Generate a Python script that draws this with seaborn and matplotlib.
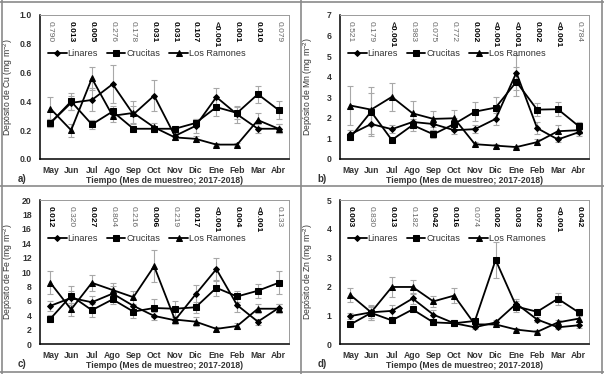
import numpy as np
import pandas as pd
import seaborn as sns
import matplotlib
matplotlib.use("Agg")
import matplotlib.pyplot as plt
from matplotlib.lines import Line2D
from matplotlib.ticker import FixedLocator

meses = ["May", "Jun", "Jul", "Ago", "Sep", "Oct", "Nov", "Dic", "Ene", "Feb", "Mar", "Abr"]
sitios = ["Linares", "Crucitas", "Los Ramones"]

# Cu
cu_linares = [0.25, 0.39, 0.41, 0.52, 0.31, 0.44, 0.16, 0.23, 0.43, 0.31, 0.21, 0.21]
cu_crucitas = [0.25, 0.40, 0.24, 0.33, 0.21, 0.21, 0.21, 0.25, 0.36, 0.32, 0.45, 0.34]
cu_ramones = [0.35, 0.20, 0.56, 0.30, 0.32, 0.22, 0.15, 0.14, 0.10, 0.10, 0.27, 0.21]
cu_err_linares = [0.03, 0.05, 0.08, 0.13, 0.06, 0.11, 0.02, 0.05, 0.06, 0.06, 0.03, 0.03]
cu_err_crucitas = [0.03, 0.06, 0.03, 0.04, 0.02, 0.02, 0.02, 0.03, 0.06, 0.04, 0.06, 0.06]
cu_err_ramones = [0.08, 0.045, 0.08, 0.04, 0.08, 0.03, 0.02, 0.02, 0.01, 0.01, 0.05, 0.03]
cu_p = ["0.790", "0.013", "0.005", "0.276", "0.178", "0.031", "0.031", "0.107", "<0.001", "0.001", "0.010", "0.079"]
cu_bold = [0, 1, 1, 0, 0, 1, 1, 1, 1, 1, 1, 0]

# Mn
mn_linares = [1.20, 1.70, 1.45, 1.80, 1.70, 1.40, 1.45, 1.95, 4.20, 1.50, 0.95, 1.30]
mn_crucitas = [1.05, 2.30, 0.92, 1.65, 1.20, 1.70, 2.30, 2.50, 3.75, 2.40, 2.42, 1.60]
mn_ramones = [2.60, 2.40, 3.02, 2.22, 1.95, 1.98, 0.72, 0.65, 0.58, 0.82, 1.35, 1.40]
mn_err_linares = [0.2, 0.5, 0.2, 0.3, 0.3, 0.2, 0.2, 0.3, 0.84, 0.3, 0.1, 0.2]
mn_err_crucitas = [0.15, 1.2, 0.1, 0.3, 0.2, 0.3, 0.45, 0.5, 0.7, 0.3, 0.35, 0.2]
mn_err_ramones = [0.94, 0.8, 0.68, 0.6, 0.4, 0.38, 0.1, 0.1, 0.05, 0.15, 0.3, 0.2]
mn_p = ["0.521", "0.179", "<0.001", "0.983", "0.075", "0.772", "0.002", "<0.001", "<0.001", "0.002", "<0.001", "0.784"]
mn_bold = [0, 0, 1, 0, 0, 0, 1, 1, 1, 1, 1, 0]

# Fe
fe_linares = [5.3, 6.4, 5.8, 7.0, 5.3, 3.9, 3.3, 6.9, 10.4, 5.4, 3.1, 5.0]
fe_crucitas = [3.5, 6.7, 4.7, 6.2, 4.5, 5.0, 4.9, 5.1, 7.8, 6.6, 7.4, 8.5]
fe_ramones = [8.5, 4.8, 8.5, 7.5, 6.5, 10.8, 3.4, 3.1, 2.1, 2.5, 4.9, 4.9]
fe_err_linares = [0.7, 1.0, 0.9, 1.0, 0.9, 0.5, 0.5, 1.3, 1.6, 1.0, 0.4, 0.5]
fe_err_crucitas = [0.5, 1.3, 0.9, 0.7, 0.9, 1.3, 1.1, 0.8, 1.1, 0.8, 1.0, 1.6]
fe_err_ramones = [1.6, 0.9, 1.1, 1.0, 0.9, 2.2, 0.5, 0.6, 0.3, 0.4, 0.6, 0.6]
fe_p = ["0.012", "0.320", "0.027", "0.804", "0.216", "0.006", "0.219", "0.017", "<0.001", "0.004", "<0.001", "0.133"]
fe_bold = [1, 0, 1, 0, 0, 1, 0, 1, 1, 1, 1, 0]

# Zn
zn_linares = [0.97, 1.10, 1.15, 1.58, 1.02, 0.72, 0.58, 0.75, 1.40, 0.85, 0.58, 0.65]
zn_crucitas = [0.68, 1.08, 0.82, 1.20, 0.75, 0.72, 0.80, 2.92, 1.30, 1.12, 1.57, 1.10]
zn_ramones = [1.70, 1.10, 1.98, 1.98, 1.48, 1.68, 0.68, 0.68, 0.50, 0.42, 0.75, 0.88]
zn_err_linares = [0.1, 0.25, 0.2, 0.2, 0.15, 0.1, 0.05, 0.1, 0.15, 0.1, 0.05, 0.1]
zn_err_crucitas = [0.05, 0.25, 0.1, 0.1, 0.1, 0.1, 0.1, 0.62, 0.2, 0.1, 0.2, 0.1]
zn_err_ramones = [0.25, 0.2, 0.35, 0.24, 0.2, 0.25, 0.1, 0.1, 0.05, 0.05, 0.1, 0.1]
zn_p = ["0.003", "0.830", "0.013", "0.182", "0.042", "0.016", "0.074", "0.002", "0.003", "0.002", "<0.001", "0.042"]
zn_bold = [1, 0, 1, 0, 1, 1, 0, 1, 1, 1, 1, 1]

paneles = [
    ("Cu", [cu_linares, cu_crucitas, cu_ramones], [cu_err_linares, cu_err_crucitas, cu_err_ramones],
     cu_p, cu_bold, np.arange(0, 1.01, 0.2), "{:.1f}", "a)"),
    ("Mn", [mn_linares, mn_crucitas, mn_ramones], [mn_err_linares, mn_err_crucitas, mn_err_ramones],
     mn_p, mn_bold, np.arange(0, 8, 1), "{:.0f}", "b)"),
    ("Fe", [fe_linares, fe_crucitas, fe_ramones], [fe_err_linares, fe_err_crucitas, fe_err_ramones],
     fe_p, fe_bold, np.arange(0, 21, 2), "{:.0f}", "c)"),
    ("Zn", [zn_linares, zn_crucitas, zn_ramones], [zn_err_linares, zn_err_crucitas, zn_err_ramones],
     zn_p, zn_bold, np.arange(0, 6, 1), "{:.0f}", "d)"),
]

sns.set_style("white")
plt.rcParams["font.family"] = ["Liberation Sans", "DejaVu Sans"]
plt.rcParams["mathtext.default"] = "regular"

W, H = 604, 374
fig = plt.figure(figsize=(W / 100, H / 100), dpi=100)

# axes boxes in pixels: left, top, right, bottom
cajas = [(40, 15, 289, 159), (340, 15, 589, 159), (40, 200, 289, 344), (340, 200, 589, 344)]
marcadores = {"Linares": "D", "Crucitas": "s", "Los Ramones": "^"}
tam = {"Linares": 3, "Crucitas": 5, "Los Ramones": 5}
texto = "#333333"

for (elem, series, errores, pvals, negrita, yticks, fmt, letra), (l, t, r, b) in zip(paneles, cajas):
    ax = fig.add_axes([l / W, 1 - b / H, (r - l) / W, (b - t) / H])
    x = np.arange(len(meses))
    for sitio, y, e in zip(sitios, series, errores):
        ax.errorbar(x, y, yerr=e, fmt="none", ecolor="#a8a8a8", elinewidth=0.8,
                    capsize=2, capthick=0.8, zorder=1)
    df = pd.DataFrame({
        "mes": np.tile(meses, 3),
        "valor": np.concatenate(series),
        "sitio": np.repeat(sitios, len(meses)),
    })
    for sitio in sitios:
        sub = df[df["sitio"] == sitio]
        sns.lineplot(data=sub, x="mes", y="valor", ax=ax, color="black", lw=1.3,
                     marker=marcadores[sitio], markersize=tam[sitio], markeredgecolor="black",
                     label=sitio, zorder=3, sort=False)
    ax.set_xlim(-0.5, len(meses) - 0.5)
    ax.set_ylim(yticks[0], yticks[-1])
    ax.set_yticks(yticks)
    ax.set_yticklabels([fmt.format(v) for v in yticks], fontsize=6.2, fontweight="bold", color=texto)
    ax.set_xticks(x)
    ax.set_xticklabels(meses, fontsize=6.2, fontweight="bold", color=texto)
    ax.tick_params(axis="x", which="major", length=0, pad=5)
    ax.xaxis.set_minor_locator(FixedLocator(x[:-1] + 0.5))
    ax.tick_params(axis="x", which="minor", direction="inout", length=5, width=1)
    ax.tick_params(axis="y", direction="out", length=4, width=1, pad=2)
    ax.set_xlabel("Tiempo (Mes de muestreo; 2017-2018)", fontsize=6.2, fontweight="bold",
                  color=texto, labelpad=1)
    ax.set_ylabel("Depósito de " + elem + " (mg m$^{-2}$)", fontsize=6.2, color=texto)
    ax.yaxis.set_label_coords(-25 / (r - l), 0.5)
    for lado in ["left", "bottom"]:
        ax.spines[lado].set_color("black")
        ax.spines[lado].set_linewidth(1.1)
    for lado in ["top", "right"]:
        ax.spines[lado].set_color("#9a9a9a")
        ax.spines[lado].set_linewidth(0.7)
    ytop = yticks[-1]
    for xi, p, bo in zip(x, pvals, negrita):
        ax.text(xi, ytop * 0.96, p, rotation=-90, ha="center", va="top", fontsize=6,
                fontweight="bold" if bo else "normal", color="black" if bo else "#666666")
    ax.legend(loc="upper left", bbox_to_anchor=(0.0, 0.82), ncol=3, frameon=False, fontsize=6.6,
              handlelength=2.0, columnspacing=1.0, handletextpad=0.1, markerscale=1.0,
              labelcolor=texto)
    fig.text((l - 18) / W, 1 - (b + 20) / H, letra, fontsize=7, fontweight="bold",
             ha="center", va="center", color=texto)

# panel frames
gris = "#8a8a8a"
for xs, ys in [([2 / W, 2 / W], [0, 1]), ([301 / W, 301 / W], [0, 1]), ([602 / W, 602 / W], [0, 1]),
               ([0, 1], [1 - 2 / H, 1 - 2 / H]), ([0, 1], [1 - 186 / H, 1 - 186 / H]),
               ([0, 1], [1 - 372 / H, 1 - 372 / H])]:
    fig.add_artist(Line2D(xs, ys, color=gris, lw=1.2))

fig.savefig("out.png", dpi=100)
